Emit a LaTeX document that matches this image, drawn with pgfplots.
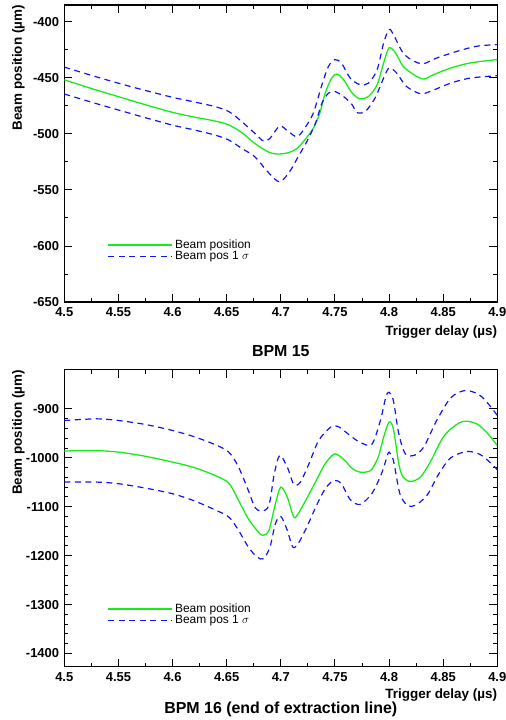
\documentclass[border=0pt]{standalone}
\usepackage{pgfplots}
\pgfplotsset{compat=1.18}
\usepackage{fontspec}
\setmainfont{Liberation Sans}
\definecolor{bgreen}{RGB}{25,235,25}
\definecolor{bblue}{RGB}{20,20,240}
\pgfplotsset{
  rootax/.style={
    scale only axis, width=433bp, height=297bp,
    xmin=4.5, xmax=4.9,
    xtick={4.5,4.55,4.6,4.65,4.7,4.75,4.8,4.85,4.9},
    minor x tick num=1,
    xtick pos=both, ytick pos=both,
    tick align=inside,
    major tick length=8bp, minor tick length=4bp,
    axis line style={line width=1.3bp, black},
    every tick/.style={line width=0.9bp, black},
    /pgf/number format/assume math mode=true,
    /pgf/number format/fixed,
    /pgf/number format/precision=2,
    /pgf/number format/1000 sep={},
    ticklabel style={font=\fontsize{13}{15}\selectfont\bfseries},
    xticklabel style={inner sep=0pt, anchor=north, yshift=-5.5bp},
    yticklabel style={inner sep=0pt, anchor=east, xshift=-5bp},
    xlabel={Trigger delay (µs)},
    ylabel={Beam position (µm)},
    label style={font=\fontsize{13.5}{16}\selectfont\bfseries, inner sep=0pt},
    ylabel style={at={(axis description cs:-0.106,1)}, anchor=east},
    every axis title shift=0pt,
    title style={font=\fontsize{16}{19}\selectfont\bfseries, inner sep=0pt, at={(rel axis cs:0.5,0)}, anchor=center},
    legend style={draw=none, fill=none, at={(rel axis cs:0.1,0.173)}, anchor=west,
      font=\fontsize{12}{14}\selectfont, row sep=-2.5bp, inner sep=0pt,
      nodes={inner sep=2pt}},
    legend cell align=left,
    greenline/.style={color=bgreen, line width=1.3bp, smooth, no markers},
    blueline/.style={color=bblue, line width=1.2bp, smooth, no markers, dash pattern=on 6bp off 4.5bp},
  }
}
\begin{document}
\begin{tikzpicture}
\path[use as bounding box] (0,0) rectangle (506bp,720bp);
% ---------------- BPM 15 ----------------
\begin{axis}[rootax, at={(64.3bp,418bp)}, anchor=south west,
  ymin=-650, ymax=-385,
  ytick={-650,-600,-550,-500,-450,-400}, minor y tick num=1,
  xlabel style={at={(rel axis cs:1,0)}, anchor=east, yshift=-30bp},
  title={BPM 15}, title style={yshift=-49bp},
  legend image code/.code={\draw[#1] (0bp,0bp) -- (64bp,0bp);}]
\addplot[greenline] coordinates {
(4.500,-451.8) (4.525,-459.5) (4.550,-466.8) (4.575,-474.0) (4.600,-480.8) (4.620,-485.0) (4.639,-488.5)
(4.652,-492.0) (4.664,-498.9) (4.676,-508.5) (4.688,-515.9) (4.696,-518.0) (4.707,-516.8) (4.715,-513.0)
(4.722,-505.5) (4.730,-495.0) (4.736,-481.6) (4.741,-463.7) (4.747,-450.2) (4.752,-446.6) (4.758,-451.7)
(4.766,-463.7) (4.773,-468.7) (4.781,-466.6) (4.789,-456.1) (4.795,-436.7) (4.800,-423.3) (4.806,-427.8)
(4.813,-439.7) (4.823,-447.2) (4.832,-451.1) (4.841,-447.2) (4.857,-441.2) (4.875,-436.7) (4.900,-433.7)
};
\addlegendentry{Beam position}
\addplot[blueline] coordinates {
(4.500,-440.4) (4.525,-447.8) (4.550,-454.8) (4.575,-461.3) (4.600,-467.4) (4.620,-471.5) (4.639,-475.6)
(4.652,-480.1) (4.664,-489.1) (4.676,-499.5) (4.684,-506.4) (4.690,-504.0) (4.699,-493.0) (4.707,-498.0)
(4.715,-502.5) (4.722,-495.0) (4.730,-481.6) (4.738,-456.2) (4.744,-439.8) (4.750,-433.8) (4.756,-436.8)
(4.764,-450.0) (4.773,-456.1) (4.781,-454.7) (4.789,-442.7) (4.795,-418.8) (4.800,-406.9) (4.804,-411.3)
(4.813,-427.8) (4.823,-435.2) (4.832,-437.3) (4.844,-432.3) (4.863,-426.3) (4.881,-421.8) (4.900,-420.3)
};
\addlegendentry{Beam pos 1 $\sigma$}
\addplot[blueline, forget plot] coordinates {
(4.500,-464.4) (4.525,-471.7) (4.550,-478.7) (4.575,-485.6) (4.600,-492.2) (4.620,-496.5) (4.639,-501.0)
(4.652,-505.5) (4.664,-513.0) (4.676,-520.4) (4.688,-533.9) (4.699,-542.8) (4.709,-532.4) (4.716,-520.4)
(4.724,-507.0) (4.732,-490.5) (4.738,-472.6) (4.744,-463.7) (4.750,-462.2) (4.758,-466.7) (4.766,-474.1)
(4.770,-480.9) (4.778,-480.0) (4.787,-468.1) (4.795,-450.2) (4.800,-441.2) (4.807,-445.7) (4.816,-457.6)
(4.829,-464.2) (4.838,-462.1) (4.857,-454.7) (4.875,-450.2) (4.900,-448.1)
};
\end{axis}
% ---------------- BPM 16 ----------------
\begin{axis}[rootax, at={(64.3bp,53.3bp)}, anchor=south west,
  ymin=-1427, ymax=-820,
  ytick={-1400,-1300,-1200,-1100,-1000,-900}, minor y tick num=4,
  xlabel style={at={(rel axis cs:1,0)}, anchor=east, yshift=-28.5bp},
  title={BPM 16 (end of extraction line)}, title style={yshift=-42.5bp},
  legend style={at={(rel axis cs:0.1,0.175)}},
  legend image code/.code={\draw[#1] (0bp,0bp) -- (64bp,0bp);}]
\addplot[greenline] coordinates {
(4.500,-986.4) (4.525,-985.0) (4.550,-988.4) (4.575,-997.0) (4.600,-1008.8) (4.620,-1020.0) (4.639,-1036.0)
(4.652,-1052.0) (4.661,-1087.2) (4.670,-1124.6) (4.678,-1148.4) (4.683,-1158.6) (4.689,-1148.4) (4.695,-1094.0)
(4.700,-1060.0) (4.706,-1080.4) (4.712,-1121.2) (4.716,-1114.4) (4.723,-1087.2) (4.732,-1049.8) (4.741,-1012.3)
(4.750,-991.9) (4.759,-1005.5) (4.766,-1022.0) (4.773,-1029.3) (4.783,-1025.9) (4.790,-998.7) (4.795,-957.9)
(4.800,-927.2) (4.804,-940.9) (4.809,-1012.3) (4.813,-1039.5) (4.820,-1048.3) (4.829,-1039.5) (4.838,-1008.9)
(4.850,-957.9) (4.861,-934.1) (4.870,-925.2) (4.881,-930.6) (4.890,-947.7) (4.900,-974.9)
};
\addlegendentry{Beam position}
\addplot[blueline] coordinates {
(4.500,-923.8) (4.530,-920.4) (4.550,-923.8) (4.575,-932.0) (4.600,-944.2) (4.620,-957.0) (4.639,-972.9)
(4.652,-988.5) (4.661,-1019.1) (4.670,-1066.8) (4.676,-1100.8) (4.682,-1108.9) (4.689,-1097.4) (4.694,-1032.7)
(4.699,-995.3) (4.706,-1019.1) (4.712,-1054.5) (4.718,-1049.8) (4.726,-1012.3) (4.735,-964.7) (4.746,-937.5)
(4.753,-936.1) (4.764,-954.5) (4.773,-968.1) (4.784,-972.8) (4.792,-923.8) (4.797,-876.2) (4.800,-866.0)
(4.804,-883.0) (4.809,-951.1) (4.815,-991.9) (4.823,-995.3) (4.832,-978.3) (4.844,-923.8) (4.857,-877.6)
(4.870,-862.6) (4.883,-870.8) (4.893,-893.2) (4.900,-913.6)
};
\addlegendentry{Beam pos 1 $\sigma$}
\addplot[blueline, forget plot] coordinates {
(4.500,-1049.7) (4.530,-1049.7) (4.550,-1053.0) (4.575,-1062.0) (4.600,-1073.5) (4.620,-1088.0) (4.639,-1106.2)
(4.652,-1121.2) (4.661,-1148.4) (4.670,-1182.4) (4.678,-1202.8) (4.684,-1206.2) (4.690,-1182.4) (4.695,-1134.8)
(4.700,-1119.8) (4.706,-1148.4) (4.711,-1182.4) (4.716,-1175.6) (4.724,-1141.6) (4.733,-1097.4) (4.741,-1063.4)
(4.749,-1046.3) (4.756,-1053.2) (4.764,-1085.0) (4.773,-1095.3) (4.784,-1073.5) (4.793,-1032.7) (4.798,-998.7)
(4.800,-988.5) (4.804,-1005.5) (4.810,-1073.5) (4.817,-1097.3) (4.824,-1097.3) (4.835,-1076.9) (4.846,-1032.7)
(4.857,-1000.0) (4.872,-987.1) (4.884,-993.2) (4.893,-1008.9) (4.900,-1024.5)
};
\end{axis}
\end{tikzpicture}
\end{document}
